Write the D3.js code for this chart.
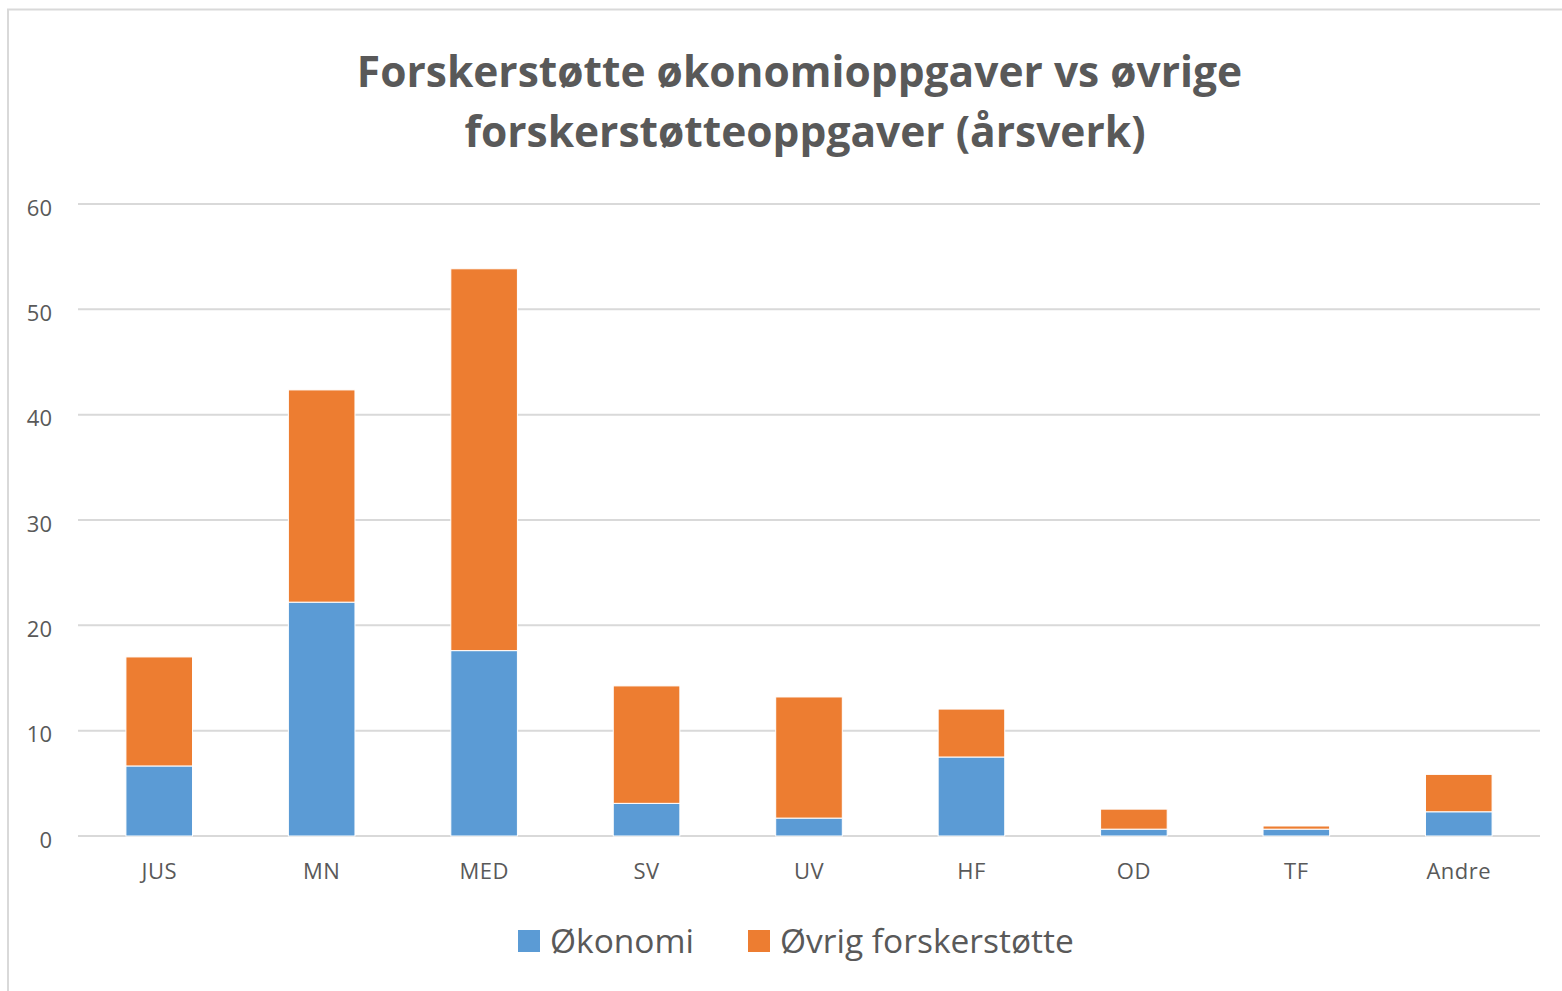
<!DOCTYPE html>
<html>
<head>
<meta charset="utf-8">
<script src="https://cdn.jsdelivr.net/npm/d3@7"></script>
<style>
  body { margin: 0; background: #fff; }
  svg { display: block; font-family: "Open Sans", sans-serif; }
</style>
</head>
<body>
<div id="chart"></div>
<script>
// data (årsverk)
var categories = ["JUS", "MN", "MED", "SV", "UV", "HF", "OD", "TF", "Andre"];
var okonomi = [6.65, 22.2, 17.6, 3.1, 1.7, 7.5, 0.65, 0.65, 2.3];
var ovrig = [10.35, 20.15, 36.25, 11.15, 11.5, 4.55, 1.9, 0.3, 3.55];
var seriesNames = ["Økonomi", "Øvrig forskerstøtte"];
var seriesColors = ["#5b9bd5", "#ed7d31"];
var yTicks = [0, 10, 20, 30, 40, 50, 60];
var titleLines = ["Forskerstøtte  økonomioppgaver vs øvrige ", "forskerstøtteoppgaver (årsverk)"];

var W = 1562, H = 991;
var margin = { top: 204, right: 22, bottom: 155, left: 78 },
    width = W - margin.left - margin.right,
    height = H - margin.top - margin.bottom;

var svg = d3.select("#chart")
    .append("svg")
    .attr("width", W)
    .attr("height", H);

// outer frame
svg.append("rect")
    .attr("x", 8).attr("y", 9.5)
    .attr("width", W).attr("height", H)
    .attr("fill", "none")
    .attr("stroke", "#d9d9d9")
    .attr("stroke-width", 2);

// title
svg.append("text")
    .attr("text-anchor", "middle")
    .attr("font-weight", "bold")
    .attr("font-size", 42.5)
    .attr("fill", "#595959")
    .selectAll("tspan")
    .data(titleLines)
    .enter()
    .append("tspan")
    .attr("x", 805)
    .attr("y", function (d, i) { return 87 + i * 60; })
    .text(function (d) { return d; });

var g = svg.append("g")
    .attr("transform", "translate(" + margin.left + "," + margin.top + ")");

var x = d3.scaleBand()
    .domain(categories)
    .range([0, width])
    .paddingInner(0.59)
    .paddingOuter(0.295);

var y = d3.scaleLinear()
    .domain([0, 60])
    .range([height, 0]);

// gridlines
g.append("g")
    .selectAll("line")
    .data(yTicks)
    .enter()
    .append("line")
    .attr("x1", 0)
    .attr("x2", width)
    .attr("y1", function (d) { return y(d); })
    .attr("y2", function (d) { return y(d); })
    .attr("stroke", "#d9d9d9")
    .attr("stroke-width", 2);

// stack the two series
var rows = categories.map(function (c, i) {
    return { cat: c, a: okonomi[i], b: ovrig[i] };
});
var stack = d3.stack().keys(["a", "b"])(rows);

g.append("g")
    .selectAll("g")
    .data(stack)
    .enter()
    .append("g")
    .attr("fill", function (d, i) { return seriesColors[i]; })
    .selectAll("rect")
    .data(function (d) { return d; })
    .enter()
    .append("rect")
    .attr("x", function (d) { return x(d.data.cat); })
    .attr("width", x.bandwidth())
    .attr("y", function (d) { return y(d[1]); })
    .attr("height", function (d) { return y(d[0]) - y(d[1]); })
    .attr("stroke", "#fff")
    .attr("stroke-width", 1);

// y axis labels
var yAxis = g.append("g")
    .call(d3.axisLeft(y).tickValues(yTicks).tickSize(0).tickPadding(26));
yAxis.select(".domain").remove();
yAxis.selectAll("text")
    .attr("font-size", 22)
    .attr("font-family", "Open Sans, sans-serif")
    .attr("fill", "#595959")
    .attr("dy", "0.5em");

// x axis labels
var xAxis = g.append("g")
    .attr("transform", "translate(0," + height + ")")
    .call(d3.axisBottom(x).tickSize(0).tickPadding(27));
xAxis.select(".domain").remove();
xAxis.selectAll("text")
    .attr("font-size", 22)
    .attr("font-family", "Open Sans, sans-serif")
    .attr("fill", "#595959")
    .attr("letter-spacing", 0.5);

// legend
var legendX = [518, 748];
var legend = svg.append("g")
    .selectAll("g")
    .data(seriesNames)
    .enter()
    .append("g")
    .attr("transform", function (d, i) { return "translate(" + legendX[i] + ",930)"; });

legend.append("rect")
    .attr("width", 22)
    .attr("height", 22)
    .attr("fill", function (d, i) { return seriesColors[i]; });

legend.append("text")
    .attr("x", 32)
    .attr("y", 23)
    .attr("font-size", 33.5)
    .attr("fill", "#595959")
    .text(function (d) { return d; });
</script>
</body>
</html>
